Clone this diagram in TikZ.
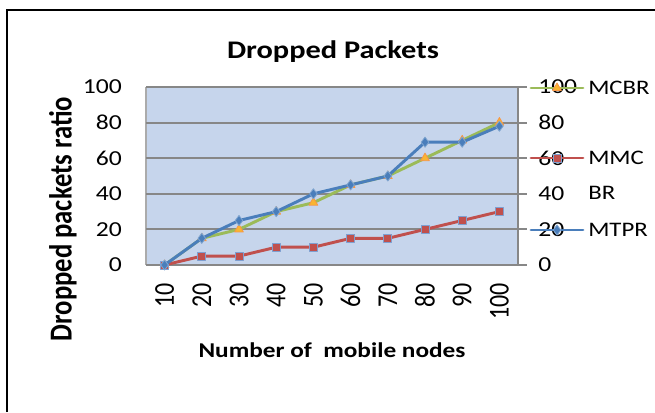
\documentclass[tikz,border=0pt]{standalone}
\usepackage{fontspec}
\setmainfont{Carlito}
\usetikzlibrary{plotmarks}

\definecolor{plotbg}{HTML}{C6D5EC}
\definecolor{gridgrey}{HTML}{878787}
\definecolor{mcbrgreen}{HTML}{9BBB59}
\definecolor{mcbrmark}{HTML}{F79646}
\definecolor{mmcred}{HTML}{C0504D}
\definecolor{mtprblue}{HTML}{4A7EBB}
\definecolor{markedge}{HTML}{7F9FD0}

% widened lettering for horizontal text, taller lettering for turned text
\newcommand\wx[1]{\scalebox{1.2}[1]{#1}}
\newcommand\tx[1]{\scalebox{1}[1.2]{#1}}

\tikzset{
  ticklabel/.style={inner sep=0pt, font=\fontsize{16}{19}\selectfont},
  catlabel/.style={inner sep=0pt, rotate=90, anchor=east, font=\fontsize{18}{21}\selectfont},
  axistitle/.style={inner sep=0pt, font=\bfseries\fontsize{15.8}{18}\selectfont},
  legendtext/.style={inner sep=0pt, anchor=west, align=left, font=\fontsize{15.5}{26.25}\selectfont},
  gridline/.style={draw=gridgrey, line width=1.4pt},
  series/.style={line width=2.2pt, line join=round, line cap=round},
  mcbr/.style={series, draw=mcbrgreen, mark=triangle*, mark size=3.8pt,
    mark options={fill=mcbrmark!70!yellow, draw=mcbrmark, line width=0.6pt}},
  mmcbr/.style={series, draw=mmcred, mark=square*, mark size=3pt,
    mark options={fill=mmcred, draw=markedge, line width=0.6pt}},
  mtpr/.style={series, draw=mtprblue, mark=diamond*, mark size=3.8pt,
    mark options={fill=mtprblue, draw=mtprblue!70!white, line width=0.6pt}},
}

\begin{document}
\begin{tikzpicture}[x=0.75pt, y=-0.75pt]
  \useasboundingbox (0,0) rectangle (655,412);
  \fill[white] (0,0) rectangle (655,412);

  % outer frame
  \draw[line width=2pt, black] (7,412) -- (7,10) -- (655,10);

  % title
  \node[inner sep=0pt, font=\bfseries\fontsize{19}{22}\selectfont] (title) at (333,52) {\wx{Dropped Packets}};

  % plot area
  \fill[plotbg] (146,87) rectangle (518,265);
  \draw[gridgrey!70, line width=0.8pt] (146,87) -- (146,265);

  % chart in data units: x = category index, y = value
  \begin{scope}[shift={(146,265)}, x=27.9pt, y=1.335pt]
    \foreach \v in {20,40,...,100} { \draw[gridline] (0,\v) -- (10,\v); }
    \draw[gridline] (0,0) -- (10,0);
    % right-hand axis and its ticks
    \draw[gridline] (10,0) -- (10,100);
    \foreach \v in {0,20,...,100} { \draw[gridline] (10,\v) -- ++(7pt,0); }

    % category labels
    \foreach \c [count=\i] in {10,20,...,100} {
      \node[catlabel] (cat\c) at ([yshift=-13.5pt]\i-0.5,0) {\tx{\c}};
    }
    % value labels, both sides
    \foreach \v in {0,20,...,100} {
      \node[ticklabel, anchor=east] (yl\v) at ([xshift=-18pt]0,\v) {\wx{\v}};
      \node[ticklabel, anchor=west] (yr\v) at ([xshift=15pt]10,\v) {\wx{\v}};
    }

    % data series
    \draw[mcbr] plot coordinates {(0.5,0) (1.5,15) (2.5,20) (3.5,30) (4.5,35) (5.5,45) (6.5,50) (7.5,60) (8.5,70) (9.5,80)};
    \draw[mmcbr] plot coordinates {(0.5,0) (1.5,5) (2.5,5) (3.5,10) (4.5,10) (5.5,15) (6.5,15) (7.5,20) (8.5,25) (9.5,30)};
    \draw[mtpr] plot coordinates {(0.5,0) (1.5,15) (2.5,25) (3.5,30) (4.5,40) (5.5,45) (6.5,50) (7.5,69) (8.5,69) (9.5,78)};
  \end{scope}

  % axis titles
  \node[axistitle, rotate=90] (ytitle) at (63,219) {\tx{\fontsize{20}{22}\selectfont Dropped packets ratio}};
  \node[axistitle] (xtitle) at (332,350) {\wx{Number of~~mobile nodes}};

  % legend: a stroke of each series with its marker in the middle
  \coordinate (lgA) at (531,88);
  \coordinate (lgB) at (531,158);
  \coordinate (lgC) at (531,230);
  \draw[mcbr, mark=none] (lgA) -- ++(52,0);
  \draw[mmcbr, mark=none] (lgB) -- ++(52,0);
  \draw[mtpr, mark=none] (lgC) -- ++(52,0);
  \path[mcbr, draw=none] plot coordinates {(557,88)};
  \path[mmcbr, draw=none] plot coordinates {(557,158)};
  \path[mtpr, draw=none] plot coordinates {(557,230)};
  \node[legendtext] (lg1) at (588,88) {\wx{MCBR}};
  \node[legendtext] (lg2) at (588,175.5) {\wx{MMC}\\\wx{BR}};
  \node[legendtext] (lg3) at (588,230) {\wx{MTPR}};
\end{tikzpicture}
\end{document}
